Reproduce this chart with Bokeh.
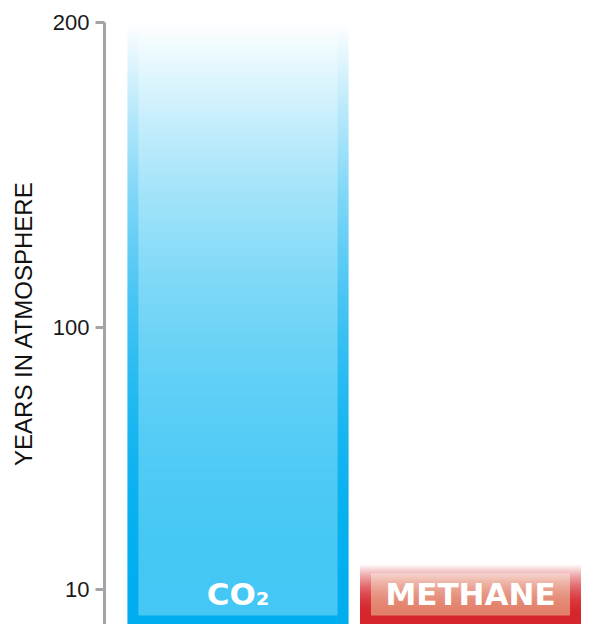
import numpy as np
from bokeh.plotting import figure
from bokeh.models import Range1d, FixedTicker, CustomJSTickFormatter, ColumnDataSource
from bokeh.core.properties import value
from bokeh.embed import file_html
from bokeh.resources import INLINE

# ---------------- data ----------------
gases = ["CO\u2082", "METHANE"]
years = [200, 19]
axis_ticks = [10, 100, 200]
axis_title = "YEARS IN ATMOSPHERE"

# ---------------- styles ----------------
border_colors = ["#00AEEF", "#D6262D"]
inner_colors = ["#44C7F4", "#E2806A"]
EXP = 1.04                      # mild power scale of the original axis


def tr(v):
    return np.power(np.asarray(v, dtype=float), EXP)


W, H = 600, 624
FRAME_LEFT, FRAME_TOP = 104, 22
frame_w = W - FRAME_LEFT
frame_h = H - FRAME_TOP

BASE_PAD_PX = 9          # border visible below the zero line
y_end = float(tr(max(axis_ticks)))
y_start = -BASE_PAD_PX * y_end / (frame_h - BASE_PAD_PX)
px_per_y = frame_h / (y_end - y_start)

SPACING_PX = 232.5
x_start = -133.5 / SPACING_PX
x_end = x_start + frame_w / SPACING_PX
half_w = 0.5 * 221 / SPACING_PX
border_x = 11 / SPACING_PX
border_top = 9 / px_per_y
label_mid = 22 / px_per_y


def mix_white(hex_color, m):
    h = hex_color.lstrip("#")
    r, g, b = (int(h[i:i + 2], 16) for i in (0, 2, 4))
    r = round(r + (255 - r) * m)
    g = round(g + (255 - g) * m)
    b = round(b + (255 - b) * m)
    return "#%02x%02x%02x" % (r, g, b)


outer = dict(left=[], right=[], bottom=[], top=[], color=[])
inner = dict(left=[], right=[], bottom=[], top=[], color=[])

for i, (g, v) in enumerate(zip(gases, years)):
    top = float(tr(v))
    n = max(20, int((top - y_start) * px_per_y / 2))
    edges = np.linspace(y_start, top, n + 1)
    step = edges[1] - edges[0]
    for b0, b1 in zip(edges[:-1], edges[1:]):
        mid = max(0.5 * (b0 + b1), 0.0)
        m = (mid / top) ** 2
        outer["left"].append(i - half_w)
        outer["right"].append(i + half_w)
        outer["bottom"].append(b0)
        outer["top"].append(min(b1 + 0.4 * step, top))
        outer["color"].append(mix_white(border_colors[i], m))
    itop = top - border_top
    n2 = max(20, int(itop * px_per_y / 2))
    edges = np.linspace(0, itop, n2 + 1)
    step = edges[1] - edges[0]
    for b0, b1 in zip(edges[:-1], edges[1:]):
        mid = 0.5 * (b0 + b1)
        m = (mid / top) ** 2
        inner["left"].append(i - half_w + border_x)
        inner["right"].append(i + half_w - border_x)
        inner["bottom"].append(b0)
        inner["top"].append(min(b1 + 0.4 * step, itop))
        inner["color"].append(mix_white(inner_colors[i], m))

p = figure(width=W, height=H,
           x_range=Range1d(x_start, x_end),
           y_range=Range1d(y_start, y_end),
           output_backend="svg", toolbar_location=None,
           x_axis_location=None, y_axis_location="left",
           min_border_left=FRAME_LEFT, min_border_right=0,
           min_border_top=FRAME_TOP, min_border_bottom=0)
p.background_fill_color = "white"
p.border_fill_color = "white"
p.outline_line_color = None
p.grid.visible = False

p.quad(left="left", right="right", bottom="bottom", top="top",
       fill_color="color", line_color=None, source=ColumnDataSource(outer))
p.quad(left="left", right="right", bottom="bottom", top="top",
       fill_color="color", line_color=None, source=ColumnDataSource(inner))

labels = ColumnDataSource(dict(x=list(range(len(gases))),
                               y=[label_mid] * len(gases), text=gases))
p.text(x="x", y="y", text="text", source=labels,
       text_font=value("DejaVu Sans"), text_font_style="bold",
       text_font_size="31px", text_color="white",
       text_align="center", text_baseline="middle")

ax = p.yaxis[0]
ax.ticker = FixedTicker(ticks=[float(t) for t in tr(axis_ticks)])
ax.formatter = CustomJSTickFormatter(
    code="return Math.round(Math.pow(tick, 1/%r)).toString();" % EXP)
ax.axis_label = axis_title
ax.axis_label_text_font = "Liberation Sans"
ax.axis_label_text_font_size = "24px"
ax.axis_label_text_font_style = "normal"
ax.axis_label_text_color = "#111111"
ax.axis_label_standoff = 13
ax.major_label_text_font = "Liberation Sans"
ax.major_label_text_font_size = "22px"
ax.major_label_text_color = "#1a1a1a"
ax.major_label_standoff = 6
ax.axis_line_color = "#a3a3a8"
ax.axis_line_width = 3
ax.major_tick_line_color = "#a3a3a8"
ax.major_tick_line_width = 3
ax.major_tick_out = 9
ax.major_tick_in = 0
ax.minor_tick_line_color = None

open("out.html", "w").write(file_html(p, INLINE))
